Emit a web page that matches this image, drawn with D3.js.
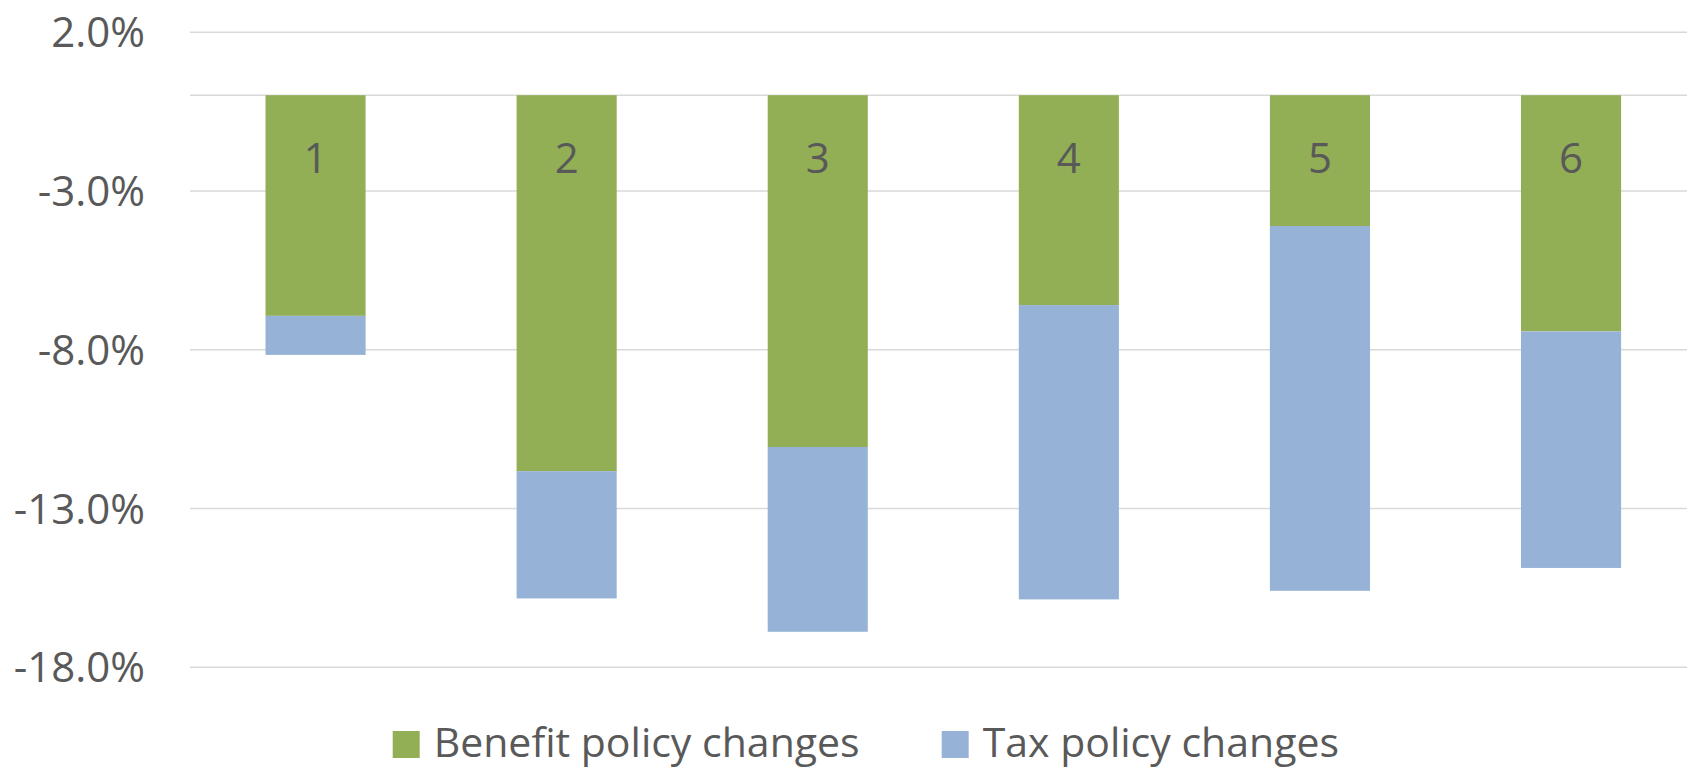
<!DOCTYPE html>
<html>
<head>
<meta charset="utf-8">
<script src="https://cdn.jsdelivr.net/npm/d3@7"></script>
<style>
  html, body { margin: 0; padding: 0; background: #ffffff; }
  svg { display: block; }
  text { font-family: "Open Sans", "Noto Sans", sans-serif; fill: #595959; }
</style>
</head>
<body>
<svg id="chart" width="1687" height="769"></svg>
<script>
// Policy scenarios, numbered 1–6
const categories = ["1", "2", "3", "4", "5", "6"];

// Change in income (%) from each kind of policy change
const benefitValues = [-6.95, -11.84, -11.08, -6.61, -4.12, -7.44];
const taxValues     = [-1.23, -4.01, -5.82, -9.27, -11.49, -7.45];

// Axis ticks (%)
const yTicks = [2, -3, -8, -13, -18];

const seriesNames  = ["Benefit policy changes", "Tax policy changes"];
const seriesColors = ["#92AF56", "#96B3D7"];

const W = 1687, H = 769;
const plot = { left: 190, right: 1696.6, top: 31.7, bottom: 666.7 };

const svg = d3.select("#chart");

const x = d3.scaleBand()
  .domain(categories)
  .range([plot.left, plot.right])
  .paddingInner(0.6014)
  .paddingOuter(0.3007);

const y = d3.scaleLinear()
  .domain([-18, 2])
  .range([plot.bottom, plot.top]);

// Horizontal gridlines
const grid = svg.append("g")
  .attr("transform", `translate(${plot.left},0)`)
  .call(d3.axisLeft(y).tickValues(yTicks).tickSize(-(W - plot.left)).tickFormat(""));
grid.select(".domain").remove();
grid.selectAll(".tick line").attr("stroke", "#d9d9d9").attr("stroke-width", 1.6);

// Zero line (category axis)
svg.append("line")
  .attr("x1", plot.left).attr("x2", W)
  .attr("y1", y(0)).attr("y2", y(0))
  .attr("stroke", "#d9d9d9").attr("stroke-width", 1.6);

// Value axis labels, with a plain hyphen for the minus sign
const pct = d => d3.format(".1f")(d).replace("\u2212", "-") + "%";
const yAxis = svg.append("g")
  .attr("transform", `translate(145,0)`)
  .call(d3.axisLeft(y).tickValues(yTicks).tickSize(0).tickPadding(0).tickFormat(pct));
yAxis.select(".domain").remove();
yAxis.selectAll("text")
  .attr("font-size", 42)
  .attr("dy", "0.36em")
  .style("fill", "#595959")
  .style("font-family", "'Open Sans', sans-serif");

// Stacked bars: benefit from 0 downward, tax continues below it
const rows = categories.map((c, i) => ({ cat: c, benefit: benefitValues[i], tax: taxValues[i] }));
const stack = d3.stack()
  .keys(["benefit", "tax"])
  .offset(d3.stackOffsetDiverging);
const layers = stack(rows);

svg.append("g").selectAll("g")
  .data(layers)
  .join("g")
  .attr("fill", (d, i) => seriesColors[i])
  .selectAll("rect")
  .data(d => d)
  .join("rect")
  .attr("x", d => x(d.data.cat))
  .attr("width", x.bandwidth())
  .attr("y", d => y(Math.max(d[0], d[1])))
  .attr("height", d => Math.abs(y(d[0]) - y(d[1])));

// Scenario numbers inside the top of each bar
svg.append("g").selectAll("text")
  .data(rows)
  .join("text")
  .attr("x", d => x(d.cat) + x.bandwidth() / 2)
  .attr("y", y(0) + 77.5)
  .attr("text-anchor", "middle")
  .attr("font-size", 42)
  .text(d => d.cat);

// Legend
const legendItems = [
  { name: seriesNames[0], color: seriesColors[0], x: 392.7 },
  { name: seriesNames[1], color: seriesColors[1], x: 941.7 }
];
const legend = svg.append("g").selectAll("g")
  .data(legendItems)
  .join("g")
  .attr("transform", d => `translate(${d.x},0)`);
legend.append("rect")
  .attr("x", 0).attr("y", 731)
  .attr("width", 27).attr("height", 27)
  .attr("fill", d => d.color);
legend.append("text")
  .attr("x", 41).attr("y", 757)
  .attr("font-size", 41)
  .text(d => d.name);
</script>
</body>
</html>
